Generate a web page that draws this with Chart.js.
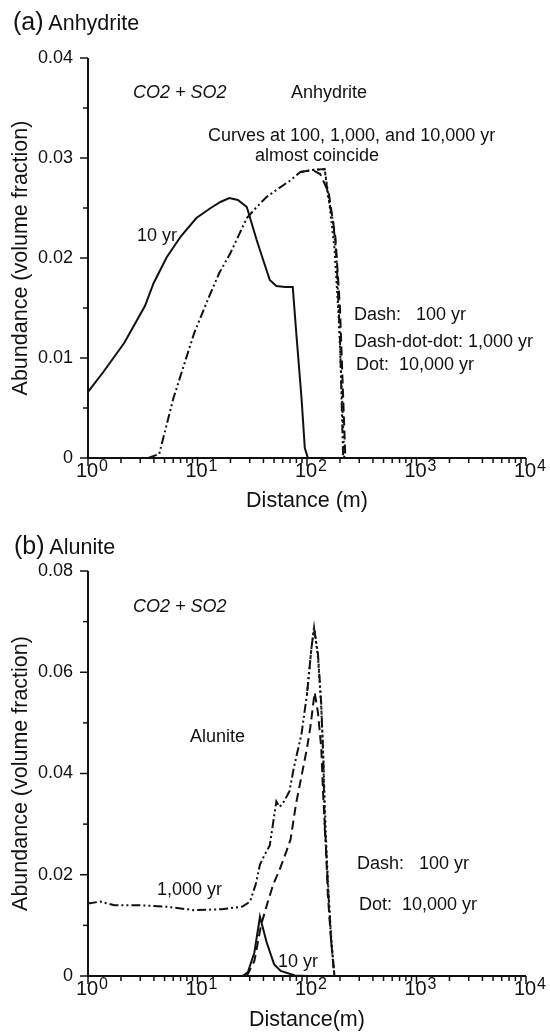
<!DOCTYPE html>
<html>
<head>
<meta charset="utf-8">
<script src="https://cdn.jsdelivr.net/npm/chart.js@4.4.1/dist/chart.umd.min.js"></script>
<style>
  body { margin: 0; background: #fff; width: 550px; height: 1035px; position: relative; overflow: hidden;
         font-family: "Liberation Sans", Arial, sans-serif; color: #111; }
  canvas { position: absolute; left: 0; }
  .t { position: absolute; white-space: pre; font-size: 18px; line-height: 18px; }
  .h { position: absolute; white-space: pre; font-size: 21.5px; line-height: 24px; }
  .h span { font-size: 25px; }
  .i { font-style: italic; }
</style>
</head>
<body>
<canvas id="chartA" width="550" height="520" style="top:0px"></canvas>
<canvas id="chartB" width="550" height="515" style="top:520px"></canvas>

<div class="h" style="left:13px;top:9px"><span>(a)</span> Anhydrite</div>
<div class="t i" style="left:133px;top:83px">CO2 + SO2</div>
<div class="t" style="left:291px;top:83px">Anhydrite</div>
<div class="t" style="left:208px;top:126px">Curves at 100, 1,000, and 10,000 yr</div>
<div class="t" style="left:255px;top:146px">almost coincide</div>
<div class="t" style="left:137px;top:226px">10 yr</div>
<div class="t" style="left:354px;top:305px">Dash:   100 yr</div>
<div class="t" style="left:354px;top:332px">Dash-dot-dot: 1,000 yr</div>
<div class="t" style="left:356px;top:355px">Dot:  10,000 yr</div>

<div class="h" style="left:14px;top:533px"><span>(b)</span> Alunite</div>
<div class="t i" style="left:133px;top:597px">CO2 + SO2</div>
<div class="t" style="left:190px;top:727px">Alunite</div>
<div class="t" style="left:157px;top:880px">1,000 yr</div>
<div class="t" style="left:278px;top:952px">10 yr</div>
<div class="t" style="left:357px;top:854px">Dash:   100 yr</div>
<div class="t" style="left:359px;top:895px">Dot:  10,000 yr</div>

<script>
// (a) Anhydrite - distance (m) and abundance (volume fraction)
const distA10 = [1, 1.38, 2.14, 3.31, 3.98, 5.25, 7.08, 9.77, 13.2, 16.2, 19.5, 23.4, 28.2, 34.7, 39.8, 45.7, 52.5, 63.1, 74.1, 79.4, 89.1, 95.5, 102];
const abA10 = [0.0066, 0.0086, 0.0115, 0.0152, 0.0175, 0.0201, 0.0222, 0.0240, 0.0250, 0.0256, 0.0260, 0.0258, 0.0251, 0.0218, 0.0198, 0.0178, 0.0172, 0.0171, 0.0171, 0.0128, 0.006, 0.001, 0];
const distA1000 = [3.55, 4.47, 6.03, 9.33, 12.6, 15.8, 20, 28.2, 34.7, 42.7, 52.5, 69.2, 87.1, 112, 145, 155, 174, 186, 200, 209, 214];
const abA1000 = [0, 0.0004, 0.006, 0.0125, 0.016, 0.0185, 0.0205, 0.024, 0.0251, 0.0261, 0.0268, 0.0277, 0.0286, 0.0288, 0.0289, 0.0263, 0.0235, 0.02, 0.012, 0.004, 0];
const distA100 = [87.1, 112, 132, 158, 182, 200, 214, 224];
const abA100 = [0.0286, 0.0288, 0.0284, 0.0265, 0.022, 0.015, 0.006, 0];
const distA10000 = [112, 145, 158, 178, 195, 209, 219];
const abA10000 = [0.0288, 0.0289, 0.026, 0.021, 0.014, 0.006, 0];

// (b) Alunite
const distB10 = [22.4, 25.7, 28.8, 33.1, 37.2, 42.7, 50.1, 57.5, 77.6, 100];
const abB10 = [0, 0, 0.0007, 0.0047, 0.0117, 0.0067, 0.0023, 0.001, 0.0001, 0];
const distB1000 = [1, 1.29, 1.74, 2.88, 5.13, 9.33, 16.6, 25.7, 30.2, 33.9, 37.2, 40.7, 45.7, 52.5, 56.2, 61.7, 69.2, 75.9, 89.1, 100, 110, 116, 126, 135, 141, 145, 151, 158, 166, 178];
const abB1000 = [0.0143, 0.0147, 0.014, 0.014, 0.0137, 0.013, 0.0132, 0.0137, 0.0147, 0.018, 0.022, 0.0238, 0.0258, 0.0345, 0.0334, 0.0345, 0.0365, 0.0412, 0.0478, 0.0557, 0.0649, 0.0688, 0.0636, 0.0537, 0.0426, 0.0294, 0.0229, 0.015, 0.007, 0];
const distB100 = [28.2, 33.1, 38, 43.7, 49, 56.2, 64.6, 70.8, 79.4, 89.1, 100, 107, 117.5, 126, 135, 141, 148, 155, 166, 178];
const abB100 = [0, 0.003, 0.01, 0.0145, 0.018, 0.021, 0.0245, 0.027, 0.034, 0.0395, 0.045, 0.049, 0.056, 0.052, 0.045, 0.035, 0.027, 0.016, 0.007, 0];
const distB10000 = [100, 110, 116, 126, 135, 141, 148, 155, 166, 178];
const abB10000 = [0.0557, 0.0649, 0.0688, 0.063, 0.053, 0.043, 0.029, 0.019, 0.008, 0];

// axis ticks
const xMajor = [1, 10, 100, 1000, 10000];
const xExponents = ['0', '1', '2', '3', '4'];
const xMinorSteps = [2, 3, 4, 5, 6, 7, 8, 9];
const yMajorA = [0, 0.01, 0.02, 0.03, 0.04];
const yLabelsA = ['0', '0.01', '0.02', '0.03', '0.04'];
const yMinorA = [0.005, 0.015, 0.025, 0.035];
const yMajorB = [0, 0.02, 0.04, 0.06, 0.08];
const yLabelsB = ['0', '0.02', '0.04', '0.06', '0.08'];
const yMinorB = [0.01, 0.03, 0.05, 0.07];

const INK = '#111';
const FONT = '"Liberation Sans", Arial, sans-serif';

const pts = (xs, ys) => xs.map((x, i) => ({ x: x, y: ys[i] }));

// draws axis lines, tick marks and the 10^n labels from the chart scales
const axisDeco = {
  id: 'axisDeco',
  afterDraw(chart, args, opts) {
    const ctx = chart.ctx;
    const xs = chart.scales.x, ys = chart.scales.y;
    const a = chart.chartArea;
    const seg = (x1, y1, x2, y2) => { ctx.beginPath(); ctx.moveTo(x1, y1); ctx.lineTo(x2, y2); ctx.stroke(); };
    ctx.save();
    ctx.strokeStyle = INK;
    ctx.fillStyle = INK;
    ctx.lineWidth = 2;
    ctx.beginPath();
    ctx.moveTo(a.left, a.top);
    ctx.lineTo(a.left, a.bottom);
    ctx.lineTo(a.right, a.bottom);
    ctx.stroke();

    ctx.lineWidth = 1.5;
    // y ticks
    opts.yMinor.forEach(v => { const p = ys.getPixelForValue(v); seg(a.left - 5, p, a.left, p); });
    ctx.font = '18px ' + FONT;
    ctx.textAlign = 'right';
    ctx.textBaseline = 'middle';
    opts.yMajor.forEach((v, i) => {
      const p = ys.getPixelForValue(v);
      seg(a.left - 8, p, a.left, p);
      ctx.fillText(opts.yLabels[i], a.left - 15, p);
    });

    // x ticks
    xMajor.forEach((d, k) => {
      const p = xs.getPixelForValue(d);
      seg(p, a.bottom, p, a.bottom + 8);
      if (k < xMajor.length - 1) {
        xMinorSteps.forEach(m => { const q = xs.getPixelForValue(d * m); seg(q, a.bottom, q, a.bottom + 5); });
      }
      ctx.textBaseline = 'alphabetic';
      ctx.font = '20px ' + FONT;
      ctx.textAlign = 'center';
      ctx.fillText('10', p - 1, a.bottom + 19);
      ctx.font = '16px ' + FONT;
      ctx.textAlign = 'left';
      ctx.fillText(xExponents[k], p + 11, a.bottom + 13);
    });
    ctx.restore();
  }
};

function makeChart(id, datasets, yMax, deco, padTop, xHeight, xTitle, xTitlePad) {
  return new Chart(document.getElementById(id), {
    type: 'line',
    data: { datasets: datasets },
    options: {
      responsive: false,
      animation: false,
      devicePixelRatio: 1,
      layout: { padding: { left: 0, right: 24, top: padTop, bottom: 0 } },
      elements: {
        point: { radius: 0 },
        line: { tension: 0, borderWidth: 2, borderColor: INK, fill: false, borderCapStyle: 'butt' }
      },
      plugins: {
        legend: { display: false },
        tooltip: { enabled: false },
        axisDeco: deco
      },
      scales: {
        x: {
          type: 'logarithmic', min: 1, max: 10000,
          grid: { display: false }, border: { display: false },
          ticks: { display: false },
          afterFit: s => { s.height = xHeight; },
          title: { display: true, text: xTitle, color: INK, font: { family: FONT, size: 21.5 },
                   padding: { top: 0, bottom: xTitlePad } }
        },
        y: {
          type: 'linear', min: 0, max: yMax,
          grid: { display: false }, border: { display: false },
          ticks: { display: false },
          afterFit: s => { s.width = 88; },
          title: { display: true, text: 'Abundance (volume fraction)', color: INK, font: { family: FONT, size: 21.5 },
                   padding: { top: 8, bottom: 0 } }
        }
      }
    },
    plugins: [axisDeco]
  });
}

const dashed = [9, 5];
const dashDotDot = [9, 3, 2, 3, 2, 3];
const dotted = [2, 3];

makeChart('chartA', [
  { label: '10 yr', data: pts(distA10, abA10) },
  { label: '1,000 yr', data: pts(distA1000, abA1000), borderDash: dashDotDot },
  { label: '100 yr', data: pts(distA100, abA100), borderDash: dashed },
  { label: '10,000 yr', data: pts(distA10000, abA10000), borderDash: dotted }
], 0.04, { yMajor: yMajorA, yLabels: yLabelsA, yMinor: yMinorA }, 58, 62, 'Distance (m)', 6);

makeChart('chartB', [
  { label: '10 yr', data: pts(distB10, abB10) },
  { label: '1,000 yr', data: pts(distB1000, abB1000), borderDash: dashDotDot },
  { label: '100 yr', data: pts(distB100, abB100), borderDash: dashed },
  { label: '10,000 yr', data: pts(distB10000, abB10000), borderDash: dotted }
], 0.08, { yMajor: yMajorB, yLabels: yLabelsB, yMinor: yMinorB }, 51, 59, 'Distance(m)', 2);
</script>
</body>
</html>
